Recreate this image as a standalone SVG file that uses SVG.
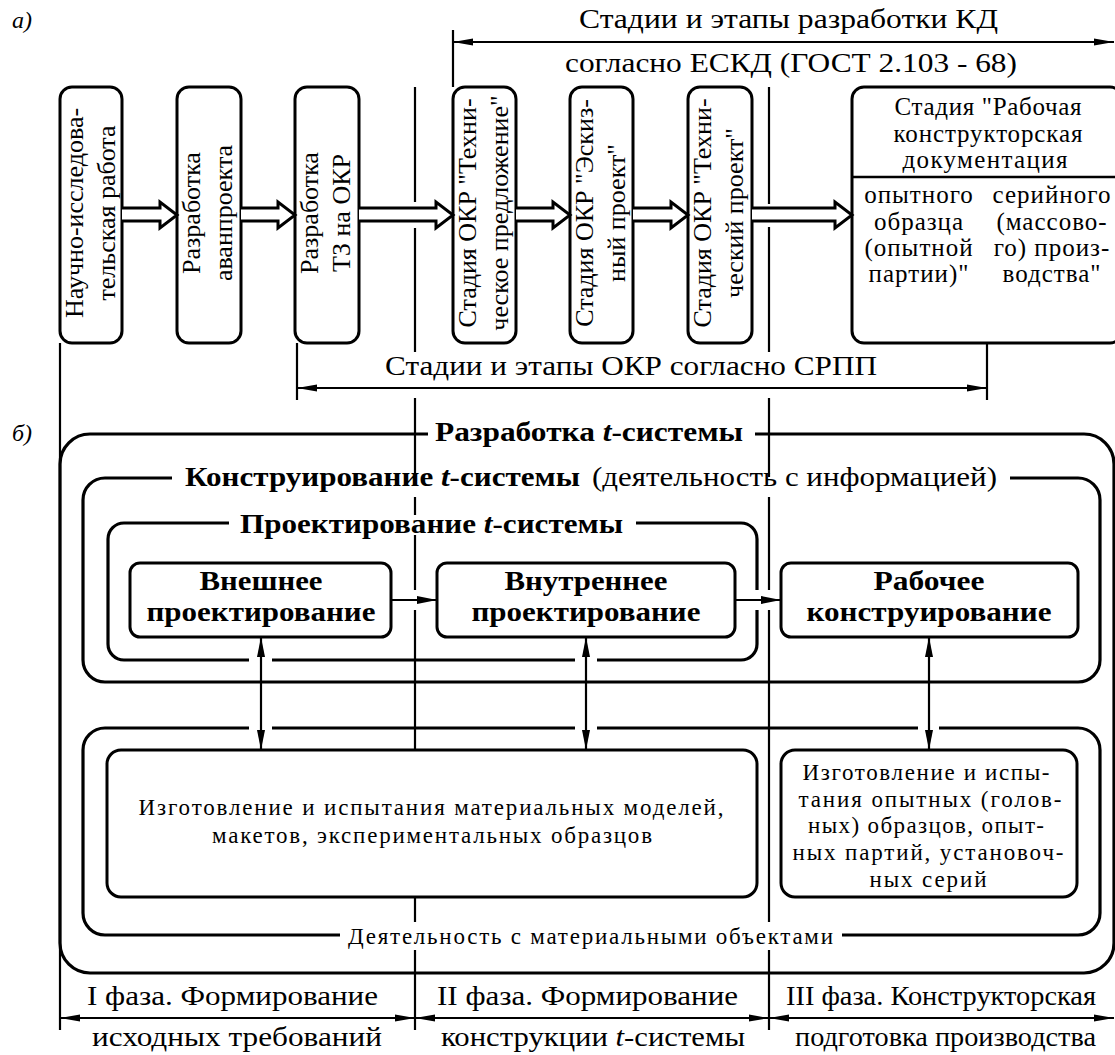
<svg xmlns="http://www.w3.org/2000/svg" width="1115" height="1055" viewBox="0 0 1115 1055">
<style>
text{font-family:"Liberation Serif","Times New Roman",serif;fill:#000}
.box{fill:#fff;stroke:#000;stroke-width:3}
.frame{fill:none;stroke:#000;stroke-width:3.2}
.thin{fill:none;stroke:#000;stroke-width:2.2}
.hollow{fill:#fff;stroke:#000;stroke-width:3;stroke-linejoin:miter}
.arr{fill:none;stroke:#000;stroke-width:2.2;marker-start:url(#ah);marker-end:url(#ah)}
.arr1{fill:none;stroke:#000;stroke-width:2.2;marker-end:url(#ah)}
.dim{fill:none;stroke:#000;stroke-width:2.2;marker-start:url(#dh);marker-end:url(#dh)}
.v{font-size:26px}
.lab{font-size:28px}
.b{font-weight:bold;font-size:27px}
.s{font-size:23px}
.c{font-size:25px}
</style>
<defs>
<marker id="ah" viewBox="0 0 20 8" refX="20" refY="4" markerWidth="20" markerHeight="8" orient="auto-start-reverse" markerUnits="userSpaceOnUse"><path d="M0,0 L20,4 L0,8 Z" fill="#000"/></marker>
<marker id="dh" viewBox="0 0 20 8" refX="20" refY="4" markerWidth="20" markerHeight="8" orient="auto-start-reverse" markerUnits="userSpaceOnUse"><path d="M0,0.5 L20,4 L0,7.5 Z" fill="#000"/></marker>
</defs>
<rect width="1115" height="1055" fill="#fff"/>

<!-- labels a) b) -->
<text x="12" y="28" font-size="24" font-style="italic">а)</text>
<text x="12" y="441" font-size="24" font-style="italic">б)</text>

<!-- guide / dimension lines -->
<g id="guides">
<path class="thin" d="M415,87 V202 M415,228 V352 M415,398 V478 M415,497 V515 M415,535 V590 M415,610 V797 M415,848 V922 M415,950 V1030"/>
<path class="thin" d="M769,87 V204 M769,227 V352 M769,398 V477 M769,497 V590 M769,610 V922 M769,950 V1030"/>
<path class="thin" d="M60,343 V1030 M453,30 V87 M297,343 V400 M987,177 V400"/>
<path class="dim" d="M453,42 H1114"/>
<path class="dim" d="M297,388 H987"/>
<path class="dim" d="M60,1018 H415"/>
<path class="dim" d="M415,1018 H769"/>
<path class="dim" d="M769,1018 H1114"/>
</g>

<text x="579" y="28" class="lab" textLength="419" lengthAdjust="spacingAndGlyphs">Стадии и этапы разработки  КД</text>
<text x="565" y="72" class="lab" textLength="452" lengthAdjust="spacingAndGlyphs">согласно ЕСКД (ГОСТ 2.103 - 68)</text>
<text x="385" y="375" class="lab" textLength="492" lengthAdjust="spacingAndGlyphs">Стадии и этапы ОКР согласно СРПП</text>

<!-- part a nodes -->
<g id="a1"><rect class="box" x="60" y="87" width="62" height="256" rx="12"/>
<text class="v" transform="translate(91,213) rotate(-90)" text-anchor="middle"><tspan x="0" y="-8">Научно-исследова-</tspan><tspan x="0" y="24">тельская работа</tspan></text></g>
<g id="a2"><rect class="box" x="177" y="87" width="64" height="256" rx="12"/>
<text class="v" transform="translate(209,213) rotate(-90)" text-anchor="middle"><tspan x="0" y="-9">Разработка</tspan><tspan x="0" y="23">аванпроекта</tspan></text></g>
<g id="a3"><rect class="box" x="295" y="87" width="64" height="256" rx="12"/>
<text class="v" transform="translate(327,213) rotate(-90)" text-anchor="middle"><tspan x="0" y="-9">Разработка</tspan><tspan x="0" y="23">ТЗ на ОКР</tspan></text></g>
<g id="a4"><rect class="box" x="453" y="87" width="63" height="256" rx="12"/>
<text class="v" transform="translate(484.5,213) rotate(-90)" text-anchor="middle"><tspan x="0" y="-8.5">Стадия ОКР "Техни-</tspan><tspan x="0" y="23.5">ческое предложение"</tspan></text></g>
<g id="a5"><rect class="box" x="570" y="87" width="63" height="256" rx="12"/>
<text class="v" transform="translate(601.5,213) rotate(-90)" text-anchor="middle"><tspan x="0" y="-8.5">Стадия ОКР "Эскиз-</tspan><tspan x="0" y="23.5">ный проект"</tspan></text></g>
<g id="a6"><rect class="box" x="688" y="87" width="64" height="256" rx="12"/>
<text class="v" transform="translate(720,213) rotate(-90)" text-anchor="middle"><tspan x="0" y="-9">Стадия ОКР "Техни-</tspan><tspan x="0" y="23">ческий проект"</tspan></text></g>
<g id="a7"><rect class="box" x="852" y="87" width="270" height="256" rx="12"/>
<path class="thin" d="M852,177 H1122" style="stroke-width:2.6"/>
<text class="c" text-anchor="middle"><tspan x="988" y="115" textLength="187" lengthAdjust="spacing">Стадия "Рабочая</tspan><tspan x="988" y="142" textLength="189" lengthAdjust="spacing">конструкторская</tspan><tspan x="985" y="168" textLength="165" lengthAdjust="spacing">документация</tspan></text>
<text class="c" text-anchor="middle" letter-spacing="1"><tspan x="919" y="203">опытного</tspan><tspan x="919" y="230">образца</tspan><tspan x="919" y="256">(опытной</tspan><tspan x="919" y="282">партии)"</tspan></text>
<text class="c" text-anchor="middle" letter-spacing="1"><tspan x="1052" y="203">серийного</tspan><tspan x="1052" y="230">(массово-</tspan><tspan x="1052" y="256">го) произ-</tspan><tspan x="1052" y="282">водства"</tspan></text>
</g>

<!-- part b frames -->
<g id="b-outer"><path class="frame" d="M428,434 H90 A30,30 0 0 0 60,464 V943 A30,30 0 0 0 90,973 H1084 A30,30 0 0 0 1114,943 V464 A30,30 0 0 0 1084,434 H755"/>
<text x="435" y="441" class="b" textLength="308" lengthAdjust="spacingAndGlyphs">Разработка <tspan font-style="italic">t</tspan>-системы</text></g>
<g id="b-konstr"><path class="frame" d="M172,478 H105 A22,22 0 0 0 83,500 V660 A22,22 0 0 0 105,682 H1078 A22,22 0 0 0 1100,660 V500 A22,22 0 0 0 1078,478 H1010"/>
<text x="185" y="486" class="b" textLength="395" lengthAdjust="spacingAndGlyphs">Конструирование <tspan font-style="italic">t</tspan>-системы</text>
<text x="592" y="486" font-size="27" textLength="405" lengthAdjust="spacingAndGlyphs">(деятельность с информацией)</text></g>
<g id="b-proekt"><path class="frame" d="M229,523 H124 A16,16 0 0 0 108,539 V644 A16,16 0 0 0 124,660 H249 M272,660 H575 M597,660 H741 A16,16 0 0 0 757,644 V610 M757,590 V539 A16,16 0 0 0 741,523 H636"/>
<text x="240" y="533" class="b" textLength="383" lengthAdjust="spacingAndGlyphs">Проектирование <tspan font-style="italic">t</tspan>-системы</text></g>
<g id="b-mat"><path class="frame" d="M249,728 H105 A22,22 0 0 0 83,750 V913 A22,22 0 0 0 105,935 H340 M842,935 H1078 A22,22 0 0 0 1100,913 V750 A22,22 0 0 0 1078,728 H939 M918,728 H597 M575,728 H272"/>
<text x="348" y="944" class="s" textLength="485" lengthAdjust="spacing">Деятельность с материальными объектами</text></g>

<g id="b1"><rect class="box" x="130" y="563" width="261" height="74" rx="10"/>
<text class="b" text-anchor="middle"><tspan x="261" y="590" textLength="123" lengthAdjust="spacingAndGlyphs">Внешнее</tspan><tspan x="261" y="621" textLength="229" lengthAdjust="spacingAndGlyphs">проектирование</tspan></text></g>
<g id="b2"><rect class="box" x="437" y="563" width="298" height="74" rx="10"/>
<text class="b" text-anchor="middle"><tspan x="586" y="590" textLength="163" lengthAdjust="spacingAndGlyphs">Внутреннее</tspan><tspan x="586" y="621" textLength="229" lengthAdjust="spacingAndGlyphs">проектирование</tspan></text></g>
<g id="b3"><rect class="box" x="781" y="563" width="297" height="74" rx="10"/>
<text class="b" text-anchor="middle"><tspan x="929" y="590" textLength="111" lengthAdjust="spacingAndGlyphs">Рабочее</tspan><tspan x="929" y="621" textLength="245" lengthAdjust="spacingAndGlyphs">конструирование</tspan></text></g>
<g id="b4"><rect class="box" x="107" y="750" width="650" height="147" rx="14"/>
<text class="s" text-anchor="middle"><tspan x="431" y="815" textLength="585" lengthAdjust="spacing">Изготовление и испытания материальных моделей,</tspan><tspan x="432" y="843" textLength="440" lengthAdjust="spacing">макетов, экспериментальных образцов</tspan></text></g>
<g id="b5"><rect class="box" x="781" y="750" width="296" height="147" rx="14"/>
<text class="s" text-anchor="middle"><tspan x="926" y="780" textLength="247" lengthAdjust="spacing">Изготовление и испы-</tspan><tspan x="930" y="807" textLength="263" lengthAdjust="spacing">тания опытных (голов-</tspan><tspan x="926" y="833" textLength="236" lengthAdjust="spacing">ных) образцов, опыт-</tspan><tspan x="928" y="860" textLength="271" lengthAdjust="spacing">ных партий, установоч-</tspan><tspan x="928" y="887" textLength="117" lengthAdjust="spacing">ных серий</tspan></text></g>

<!-- phase labels -->
<text class="lab" x="87" y="1005" textLength="291" lengthAdjust="spacingAndGlyphs">I фаза. Формирование</text>
<text class="lab" x="92" y="1046" textLength="290" lengthAdjust="spacingAndGlyphs">исходных требований</text>
<text class="lab" x="437" y="1005" textLength="301" lengthAdjust="spacingAndGlyphs">II фаза. Формирование</text>
<text class="lab" x="441" y="1046" textLength="304" lengthAdjust="spacingAndGlyphs">конструкции <tspan font-style="italic">t</tspan>-системы</text>
<text class="lab" x="786" y="1005" textLength="310" lengthAdjust="spacingAndGlyphs">III фаза. Конструкторская</text>
<text class="lab" x="795" y="1046" textLength="301" lengthAdjust="spacingAndGlyphs">подготовка производства</text>

<!-- connectors -->
<g id="connectors">
<path class="hollow" d="M122,208 H160 V202 L177,215 L160,228 V221 H122"/>
<path class="hollow" d="M241,208 H278 V202 L295,215 L278,228 V221 H241"/>
<path class="hollow" d="M359,208 H436 V202 L453,215 L436,228 V221 H359"/>
<path class="hollow" d="M516,208 H553 V202 L570,215 L553,228 V221 H516"/>
<path class="hollow" d="M633,208 H671 V202 L688,215 L671,228 V221 H633"/>
<path class="hollow" d="M752,208 H835 V202 L852,215 L835,228 V221 H752"/>
<path class="arr1" d="M391,600 H437"/>
<path class="arr1" d="M735,600 H781"/>
<path class="arr" d="M261,637 V750"/>
<path class="arr" d="M586,637 V750"/>
<path class="arr" d="M929,637 V750"/>
</g>
</svg>
